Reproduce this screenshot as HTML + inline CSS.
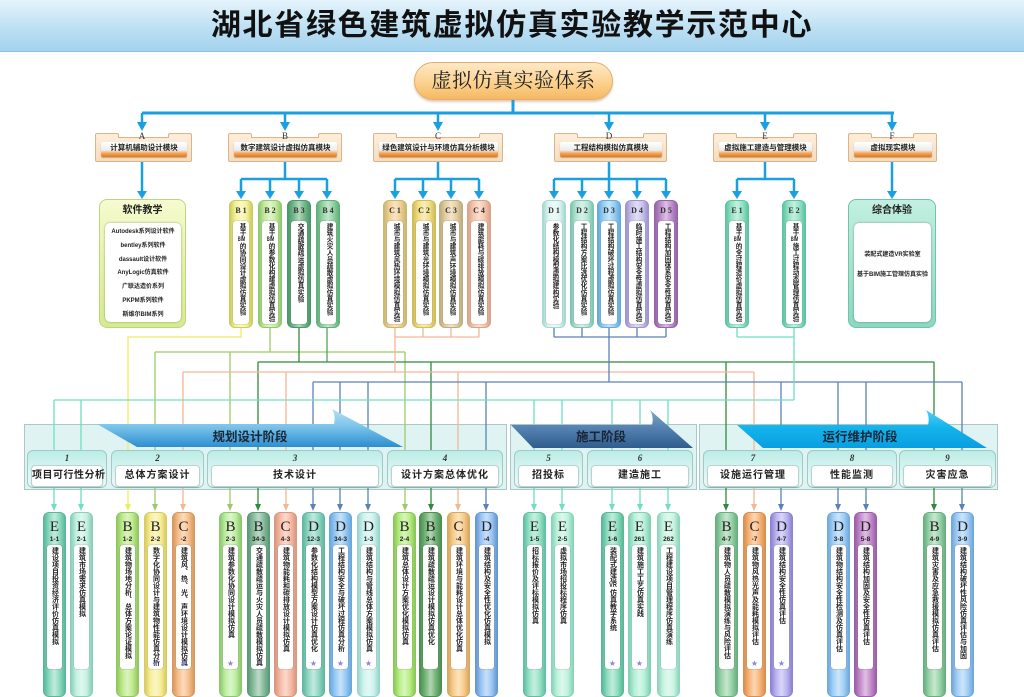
<!DOCTYPE html>
<html><head><meta charset="utf-8">
<style>
*{box-sizing:border-box}
html,body{margin:0;width:1024px;height:697px;overflow:hidden;background:#fff;font-family:"Liberation Sans","Noto Sans CJK SC",sans-serif}
#c{position:relative;width:1024px;height:697px;overflow:hidden}
.title{position:absolute;left:0;top:0;width:1024px;height:52px;background:linear-gradient(#e6f4fc,#b9def2 60%,#a4d3ee);border-bottom:1px solid #8cc2e2;text-align:center;font:bold 30px/52px "Liberation Sans","Noto Sans CJK SC",sans-serif;letter-spacing:1.7px;color:#111}
.root{position:absolute;left:414px;top:62px;width:199px;height:38px;border-radius:19px;background:linear-gradient(#fee9c6,#fbcf8a 60%,#f6b862);border:1px solid #e6ad6a;box-shadow:0 2px 2px rgba(160,110,50,.35);text-align:center;font:20px/36px "Liberation Serif","Noto Serif CJK SC",serif;color:#222;letter-spacing:.5px}
.mf{position:absolute;top:137px;height:25px;background:linear-gradient(#fcecd8,#f6dcbc);border:1px solid #d9b58e;border-radius:2px;z-index:2}
.mf i{position:absolute;top:-5px;width:24px;height:5px;background:#fcecd8;border:1px solid #d9b58e;border-bottom:none;border-radius:2px 2px 0 0}
.mf i.l{left:-1px}.mf i.r{right:-1px}
.mi{position:absolute;left:5px;right:4px;top:4px;height:15px;background:linear-gradient(#ffffff,#ececec 55%,#f6a252 76%,#e67618);border-radius:2px;font:bold 7.5px/12px "Liberation Sans","Noto Sans CJK SC",sans-serif;text-align:center;color:#222;box-shadow:0 1px 1px rgba(0,0,0,.25);white-space:nowrap}
.let{position:absolute;top:131px;width:20px;margin-left:-10px;text-align:center;font:9px/10px "Liberation Serif",serif;color:#333;z-index:3}
.sb{position:absolute;top:200px;width:24px;height:128px;border-radius:6px;border:1px solid var(--e);background:linear-gradient(90deg,var(--e),var(--c) 25%,color-mix(in srgb,var(--c) 55%,#fff) 50%,var(--c) 75%,var(--e));z-index:2}
.sb .hd{position:absolute;top:5px;left:0;width:100%;text-align:center;font:bold 8px/9px "Liberation Serif",serif;color:#333;white-space:nowrap}
.sb .in{position:absolute;left:3px;right:3px;top:20px;bottom:3px;background:#fff;border-radius:3px;box-shadow:0 0 1px rgba(0,0,0,.5)}
.vt{position:absolute;left:50%;margin-left:-4px;width:8px;height:120px;top:2px;writing-mode:vertical-rl;text-orientation:upright;font:bold 6.6px/8px "Liberation Sans","Noto Sans CJK SC",sans-serif;color:#222;overflow:visible}
.tcy{text-combine-upright:all}
.bc{position:absolute;top:512px;width:23px;height:185px;border-radius:6px;border:1px solid var(--e);background:linear-gradient(90deg,var(--e),var(--c) 25%,color-mix(in srgb,var(--c) 55%,#fff) 50%,var(--c) 75%,var(--e));z-index:2}
.bc .L{position:absolute;top:7px;left:0;width:100%;text-align:center;font:15px/15px "Liberation Serif",serif;color:#222}
.bc .n{position:absolute;top:23px;left:-3px;width:27px;text-align:center;font:bold 6.5px/8px "Liberation Sans",sans-serif;color:#222;white-space:nowrap}
.bc .in{position:absolute;left:3px;right:3px;top:32px;height:124px;background:#fff;border-radius:3px;box-shadow:0 0 1px rgba(0,0,0,.5)}
.bc .vt{height:121px;top:2px;font-size:7px}
.bc .st{position:absolute;top:147px;left:0;width:100%;text-align:center;font:8px/8px "DejaVu Sans",sans-serif;color:#8a86dc}
.big{position:absolute;top:199px;height:129px;border-radius:8px;z-index:2}
.big .t{position:absolute;top:4px;width:100%;text-align:center;font:bold 10px/14px "Liberation Sans","Noto Sans CJK SC",sans-serif;color:#222}
.big .in{position:absolute;left:5px;right:4px;top:23px;bottom:5px;background:#fff;border-radius:5px;box-shadow:0 0 2px rgba(0,0,0,.35);text-align:center;font:bold 6px/13.8px "Liberation Sans","Noto Sans CJK SC",sans-serif;color:#222;white-space:nowrap}
.stg{position:absolute;top:424px;height:66px;background:#e0f3f3;border:1px solid #a9c9c9;z-index:0}
.ss{position:absolute;top:450px;height:38px;border-radius:6px;border:1px solid #9fcac6;background:linear-gradient(#bcece6,#def6f4 60%,#eefaf9);z-index:2}
.ss .num{position:absolute;top:2px;width:100%;text-align:center;font:italic bold 9px/11px "Liberation Serif",serif;color:#333}
.ss .lb{position:absolute;left:3px;right:3px;top:14px;height:22px;background:#fff;border-radius:4px;border:1px solid #b8d4d2;font:bold 10px/20px "Liberation Sans","Noto Sans CJK SC",sans-serif;text-align:center;letter-spacing:1px;color:#222;box-shadow:0 1px 1px rgba(0,0,0,.15);white-space:nowrap}
svg{position:absolute;left:0;top:0}
</style></head><body><div id="c">

<div class="title">湖北省绿色建筑虚拟仿真实验教学示范中心</div>
<div class="root">虚拟仿真实验体系</div>

<div class="stg" style="left:24px;width:483px"></div>
<div class="stg" style="left:510px;width:187px"></div>
<div class="stg" style="left:699px;width:299px"></div>

<svg width="1024" height="697" style="z-index:1" fill="none">
<g stroke="#1aa0e0" stroke-width="3">
<path d="M513 100V113M142 113H894"/>
</g>
<g stroke="#1aa0e0" stroke-width="2.5">
<path d="M142 113V124M285 113V124M438 113V124M609 113V124M765 113V124M892 113V124"/>
<path d="M142 162V192"/>
<path d="M285 162V179M241 179H327M241 179V192M270 179V192M299 179V192M327 179V192"/>
<path d="M438 162V179M395 179H479M395 179V192M423 179V192M451 179V192M479 179V192"/>
<path d="M609 162V179M554 179H666M554 179V192M582 179V192M609 179V192M637 179V192M666 179V192"/>
<path d="M765 162V179M737 179H794M737 179V192M794 179V192"/>
<path d="M892 162V192"/>
</g>
<g fill="#1aa0e0">
<path d="M137 122h10l-5 9zM280 122h10l-5 9zM433 122h10l-5 9zM604 122h10l-5 9zM760 122h10l-5 9zM887 122h10l-5 9z"/>
<path d="M137 191h10l-5 8zM236 191h10l-5 8zM265 191h10l-5 8zM294 191h10l-5 8zM322 191h10l-5 8zM390 191h10l-5 8zM418 191h10l-5 8zM446 191h10l-5 8zM474 191h10l-5 8zM549 191h10l-5 8zM577 191h10l-5 8zM604 191h10l-5 8zM632 191h10l-5 8zM661 191h10l-5 8zM732 191h10l-5 8zM789 191h10l-5 8zM887 191h10l-5 8z"/>
</g>
<g stroke-width="1.3">
<path stroke="#f0ea5e" d="M241 328V337H128V505"/>
<path stroke="#9ccb66" d="M270 328V352M155 352H405M155 352V505M230 352V505M405 352V505"/>
<path stroke="#4fa35a" d="M327 328V362"/>
<path stroke="#2f8a3c" d="M299 328V362M258 362H934M258 362V505M431 362V505M726 362V505M934 362V505"/>
<path stroke="#f3b794" d="M395 328V337M423 328V337M451 328V337M479 328V337M395 337H479M395 337V372M183 372H754M183 372V505M286 372V505M458 372V505M754 372V505"/>
<path stroke="#5a82b6" d="M554 328V337M582 328V337M609 328V337M637 328V337M666 328V337M554 337H666M609 337V382M313 382H962M313 382V505M340 382V505M368 382V505M486 382V505M781 382V505M838 382V505M866 382V505M962 382V505"/>
<path stroke="#6ddfc2" d="M737 328V337M794 328V337M737 337H794M794 337V400M54 400H794M54 400V505M81 400V505M534 400V505M562 400V505M612 400V505M640 400V505M668 400V505"/>
</g>
<path fill="#f0ea5e" d="M125 504h6l-3 7z"/>
<path fill="#9ccb66" d="M152 504h6l-3 7zM227 504h6l-3 7zM402 504h6l-3 7z"/>
<path fill="#2f8a3c" d="M255 504h6l-3 7zM428 504h6l-3 7zM723 504h6l-3 7zM931 504h6l-3 7z"/>
<path fill="#f3b794" d="M180 504h6l-3 7zM283 504h6l-3 7zM455 504h6l-3 7zM751 504h6l-3 7z"/>
<path fill="#5a82b6" d="M310 504h6l-3 7zM337 504h6l-3 7zM365 504h6l-3 7zM483 504h6l-3 7zM778 504h6l-3 7zM835 504h6l-3 7zM863 504h6l-3 7zM959 504h6l-3 7z"/>
<path fill="#6ddfc2" d="M51 504h6l-3 7zM78 504h6l-3 7zM531 504h6l-3 7zM559 504h6l-3 7zM609 504h6l-3 7zM637 504h6l-3 7zM665 504h6l-3 7z"/>
</svg>

<div class="let" style="left:142px">A</div>
<div class="let" style="left:285px">B</div>
<div class="let" style="left:438px">C</div>
<div class="let" style="left:609px">D</div>
<div class="let" style="left:765px">E</div>
<div class="let" style="left:892px">F</div>

<div class="mf" style="left:95px;width:97px"><i class="l"></i><i class="r"></i><div class="mi">计算机辅助设计模块</div></div>
<div class="mf" style="left:228px;width:114px"><i class="l"></i><i class="r"></i><div class="mi">数字建筑设计虚拟仿真模块</div></div>
<div class="mf" style="left:373px;width:130px"><i class="l"></i><i class="r"></i><div class="mi">绿色建筑设计与环境仿真分析模块</div></div>
<div class="mf" style="left:554px;width:113px"><i class="l"></i><i class="r"></i><div class="mi">工程结构模拟仿真模块</div></div>
<div class="mf" style="left:713px;width:104px"><i class="l"></i><i class="r"></i><div class="mi">虚拟施工建造与管理模块</div></div>
<div class="mf" style="left:848px;width:89px"><i class="l"></i><i class="r"></i><div class="mi">虚拟现实模块</div></div>

<div class="big" style="left:99px;width:87px;background:linear-gradient(#f6fbd0,#e4f2a8 50%,#d6eb90);border:1px solid #bcd680">
<div class="t">软件教学</div>
<div class="in" style="padding-top:3px">Autodesk系列设计软件<br>bentley系列软件<br>dassault设计软件<br>AnyLogic仿真软件<br>广联达造价系列<br>PKPM系列软件<br>斯维尔BIM系列</div></div>
<div class="big" style="left:848px;width:88px;background:linear-gradient(#c2f0e0,#a6e4d0 50%,#8cd8c0);border:1px solid #70c4a8">
<div class="t">综合体验</div>
<div class="in" style="padding-top:22px;line-height:20px">装配式建造VR实验室<br>基于BIM施工管理仿真实验</div></div>

<div class="sb" style="left:229px;--c:#f3f29a;--e:#cccc60"><div class="hd">B 1</div><div class="in"><div class="vt">基于<span class="tcy">BIM</span>的协同设计虚拟仿真实验</div></div></div>
<div class="sb" style="left:258px;--c:#c6eba0;--e:#90c870"><div class="hd">B 2</div><div class="in"><div class="vt">基于<span class="tcy">BIM</span>的参数化构建虚拟仿真实验</div></div></div>
<div class="sb" style="left:287px;--c:#72b88a;--e:#4a9868"><div class="hd">B 3</div><div class="in"><div class="vt">交通疏散疏运虚拟仿真实验</div></div></div>
<div class="sb" style="left:316px;--c:#92d2a2;--e:#60b07a"><div class="hd">B 4</div><div class="in"><div class="vt">建筑火灾人员疏散虚拟仿真实验</div></div></div>
<div class="sb" style="left:383px;--c:#f2cf96;--e:#c8b870"><div class="hd">C 1</div><div class="in"><div class="vt">城市与建筑风热环境模拟仿真实验</div></div></div>
<div class="sb" style="left:412px;--c:#f2df86;--e:#d0bc58"><div class="hd">C 2</div><div class="in"><div class="vt">城市与建筑光环境模拟仿真实验</div></div></div>
<div class="sb" style="left:439px;--c:#e4cfa2;--e:#bcae80"><div class="hd">C 3</div><div class="in"><div class="vt">城市与建筑声环境模拟仿真实验</div></div></div>
<div class="sb" style="left:467px;--c:#f6c6ae;--e:#d8a488"><div class="hd">C 4</div><div class="in"><div class="vt">建筑能耗与碳排放模拟仿真实验</div></div></div>
<div class="sb" style="left:542px;--c:#ddf6f2;--e:#a4d8d0"><div class="hd">D 1</div><div class="in"><div class="vt">参数化结构模型虚拟建构实验</div></div></div>
<div class="sb" style="left:570px;--c:#b6e6d6;--e:#80c4b0"><div class="hd">D 2</div><div class="in"><div class="vt">工程结构方案比选优化仿真实验</div></div></div>
<div class="sb" style="left:597px;--c:#96cef4;--e:#64aadc"><div class="hd">D 3</div><div class="in"><div class="vt">工程结构破坏过程虚拟仿真实验</div></div></div>
<div class="sb" style="left:625px;--c:#cac2ec;--e:#9c94cc"><div class="hd">D 4</div><div class="in"><div class="vt">临时施工结构安全性虚拟仿真实验</div></div></div>
<div class="sb" style="left:654px;--c:#be8ecc;--e:#9664a8"><div class="hd">D 5</div><div class="in"><div class="vt">工程结构加固体系安全性仿真实验</div></div></div>
<div class="sb" style="left:725px;--c:#96e2c6;--e:#5cc4a0"><div class="hd">E 1</div><div class="in"><div class="vt">基于<span class="tcy">BIM</span>的全过程造价虚拟仿真实验</div></div></div>
<div class="sb" style="left:782px;--c:#96e2c6;--e:#5cc4a0"><div class="hd">E 2</div><div class="in"><div class="vt">基于<span class="tcy">BIM</span>施工过程动态管理仿真实验</div></div></div>

<div class="ss" style="left:27px;width:80px"><div class="num">1</div><div class="lb" style="letter-spacing:.5px">项目可行性分析</div></div>
<div class="ss" style="left:111px;width:93px"><div class="num">2</div><div class="lb">总体方案设计</div></div>
<div class="ss" style="left:207px;width:176px"><div class="num">3</div><div class="lb">技术设计</div></div>
<div class="ss" style="left:387px;width:116px"><div class="num">4</div><div class="lb">设计方案总体优化</div></div>
<div class="ss" style="left:514px;width:69px"><div class="num">5</div><div class="lb">招投标</div></div>
<div class="ss" style="left:587px;width:106px"><div class="num">6</div><div class="lb">建造施工</div></div>
<div class="ss" style="left:703px;width:100px"><div class="num">7</div><div class="lb">设施运行管理</div></div>
<div class="ss" style="left:807px;width:90px"><div class="num">8</div><div class="lb">性能监测</div></div>
<div class="ss" style="left:899px;width:97px"><div class="num">9</div><div class="lb">灾害应急</div></div>

<svg width="1024" height="697" style="z-index:3">
<defs>
<linearGradient id="g1" x1="0" y1="0" x2="0" y2="1"><stop offset="0" stop-color="#b6e0f4"/><stop offset=".45" stop-color="#7cc4ea"/><stop offset="1" stop-color="#2c8ed0"/></linearGradient>
<linearGradient id="g2" x1="0" y1="0" x2="0" y2="1"><stop offset="0" stop-color="#7fa6cc"/><stop offset=".45" stop-color="#5683b2"/><stop offset="1" stop-color="#2f5d8e"/></linearGradient>
<linearGradient id="g3" x1="0" y1="0" x2="0" y2="1"><stop offset="0" stop-color="#4fd0f6"/><stop offset=".45" stop-color="#14b4ec"/><stop offset="1" stop-color="#0a9ee0"/></linearGradient>
</defs>
<path d="M97 424L334 424Q336 416 332 409L403 447L137 447Z" fill="url(#g1)"/>
<path d="M511 425L652 425Q654 417 650 410L693 448L533 448Z" fill="url(#g2)"/>
<path d="M737 425L928 425Q930 417 926 410L987 448L763 448Z" fill="url(#g3)"/>
<g font-family="Liberation Sans,Noto Sans CJK SC,sans-serif" font-weight="bold" font-size="12.5" fill="#1a2636" text-anchor="middle">
<text x="250" y="441">规划设计阶段</text>
<text x="601" y="441">施工阶段</text>
<text x="860" y="441">运行维护阶段</text>
</g>
</svg>

<div class="bc" style="left:43px;--c:#8ed9c0;--e:#58b898"><div class="L">E</div><div class="n">1-1</div><div class="in"><div class="vt">建设项目投资经济评价仿真模拟</div></div></div>
<div class="bc" style="left:70px;--c:#c4f0e2;--e:#88d0b8"><div class="L">E</div><div class="n">2-1</div><div class="in"><div class="vt">建筑市场需求仿真模拟</div></div></div>
<div class="bc" style="left:116px;--c:#bfe98c;--e:#90c860"><div class="L">B</div><div class="n">1-2</div><div class="in"><div class="vt">建筑物场地分析、总体方案论证模拟</div></div></div>
<div class="bc" style="left:144px;--c:#f6ee98;--e:#d8cc60"><div class="L">B</div><div class="n">2-2</div><div class="in"><div class="vt">数字化协同设计与建筑物性能仿真分析</div></div><div class="st">★</div></div>
<div class="bc" style="left:172px;--c:#f6bf8c;--e:#d89860"><div class="L">C</div><div class="n">-2</div><div class="in"><div class="vt">建筑风、热、光、声环境设计模拟仿真</div></div><div class="st">★</div></div>
<div class="bc" style="left:219px;--c:#bdeea0;--e:#8cc870"><div class="L">B</div><div class="n">2-3</div><div class="in"><div class="vt">建筑参数化协同设计模拟仿真</div></div><div class="st">★</div></div>
<div class="bc" style="left:247px;--c:#88bc9c;--e:#5a9a78"><div class="L">B</div><div class="n">34-3</div><div class="in"><div class="vt">交通疏散疏运与火灾人员疏散模拟仿真</div></div></div>
<div class="bc" style="left:274px;--c:#f6bba6;--e:#d89880"><div class="L">C</div><div class="n">4-3</div><div class="in"><div class="vt">建筑物能耗和碳排放设计模拟仿真</div></div></div>
<div class="bc" style="left:302px;--c:#92d6c4;--e:#60b8a0"><div class="L">D</div><div class="n">12-3</div><div class="in"><div class="vt">参数化结构模型方案设计仿真优化</div></div><div class="st">★</div></div>
<div class="bc" style="left:329px;--c:#98caf4;--e:#68a8dc"><div class="L">D</div><div class="n">34-3</div><div class="in"><div class="vt">工程结构安全与破坏过程仿真分析</div></div><div class="st">★</div></div>
<div class="bc" style="left:357px;--c:#cdf3ee;--e:#98d4cc"><div class="L">D</div><div class="n">1-3</div><div class="in"><div class="vt">建筑结构与管线总体方案模拟仿真</div></div><div class="st">★</div></div>
<div class="bc" style="left:393px;--c:#b8ee84;--e:#88c858"><div class="L">B</div><div class="n">2-4</div><div class="in"><div class="vt">建筑总体设计方案优化模拟仿真</div></div></div>
<div class="bc" style="left:419px;--c:#74b478;--e:#4a9050"><div class="L">B</div><div class="n">3-4</div><div class="in"><div class="vt">建筑疏散疏运设计模拟仿真优化</div></div></div>
<div class="bc" style="left:447px;--c:#f8cd8c;--e:#d8a860"><div class="L">C</div><div class="n">-4</div><div class="in"><div class="vt">建筑环境与能耗设计总体优化仿真</div></div></div>
<div class="bc" style="left:475px;--c:#9cc6f4;--e:#6898d0"><div class="L">D</div><div class="n">-4</div><div class="in"><div class="vt">建筑结构及安全性优化仿真模拟</div></div></div>
<div class="bc" style="left:523px;--c:#98e2c8;--e:#60c0a0"><div class="L">E</div><div class="n">1-5</div><div class="in"><div class="vt">招标报价及评标模拟仿真</div></div></div>
<div class="bc" style="left:551px;--c:#bff2de;--e:#88d4b8"><div class="L">E</div><div class="n">2-5</div><div class="in"><div class="vt">虚拟市场招投标程序仿真</div></div></div>
<div class="bc" style="left:601px;--c:#8edcc0;--e:#58b898"><div class="L">E</div><div class="n">1-6</div><div class="in"><div class="vt">装配式建造<span class="tcy">VR</span>仿真教学系统</div></div><div class="st">★</div></div>
<div class="bc" style="left:628px;--c:#b6efda;--e:#80d0b4"><div class="L">E</div><div class="n">261</div><div class="in"><div class="vt">建筑施工工艺仿真实践</div></div><div class="st">★</div></div>
<div class="bc" style="left:657px;--c:#c8f4e4;--e:#90d4bc"><div class="L">E</div><div class="n">262</div><div class="in"><div class="vt">工程建设项目管理程序仿真演练</div></div></div>
<div class="bc" style="left:715px;--c:#98d2a8;--e:#68b080"><div class="L">B</div><div class="n">4-7</div><div class="in"><div class="vt">建筑物人员疏散模拟演练与风险评估</div></div></div>
<div class="bc" style="left:743px;--c:#f8b57a;--e:#d89050"><div class="L">C</div><div class="n">-7</div><div class="in"><div class="vt">建筑物风热光声及能耗模拟评估</div></div><div class="st">★</div></div>
<div class="bc" style="left:770px;--c:#bcb4f2;--e:#8c84d0"><div class="L">D</div><div class="n">4-7</div><div class="in"><div class="vt">建筑结构安全性仿真评估</div></div><div class="st">★</div></div>
<div class="bc" style="left:827px;--c:#a2d0f6;--e:#70aadc"><div class="L">D</div><div class="n">3-8</div><div class="in"><div class="vt">建筑物结构安全性检测及仿真评估</div></div></div>
<div class="bc" style="left:854px;--c:#c48ccc;--e:#9a60a8"><div class="L">D</div><div class="n">5-8</div><div class="in"><div class="vt">建筑结构加固及安全性仿真评估</div></div></div>
<div class="bc" style="left:923px;--c:#9ad4aa;--e:#68b080"><div class="L">B</div><div class="n">4-9</div><div class="in"><div class="vt">建筑灾害及应急救援模拟仿真评估</div></div></div>
<div class="bc" style="left:951px;--c:#a4cef6;--e:#70a8dc"><div class="L">D</div><div class="n">3-9</div><div class="in"><div class="vt">建筑结构破坏性风险仿真评估与加固</div></div></div>

</div></body></html>
